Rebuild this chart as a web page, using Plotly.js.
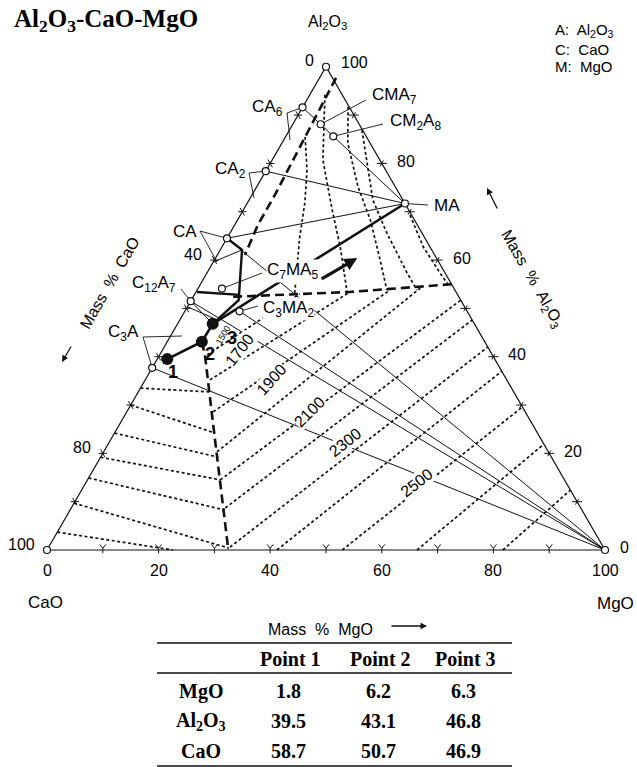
<!DOCTYPE html>
<html>
<head>
<meta charset="utf-8">
<script src="https://cdn.plot.ly/plotly-3.0.1.min.js"></script>
<style>html,body{margin:0;padding:0;background:#fff;}#chart{width:637px;height:767px;}</style>
</head>
<body>
<div id="chart"></div>
<script>
// ================= DATA (mass %) =================
const compoundIds    = ['CA6','CA2','CA','C12A7','C3A','MA','CMA7','CM2A8','C7MA5','C3MA2'];
const compoundLabels = ['CA<sub>6</sub>','CA<sub>2</sub>','CA','C<sub>12</sub>A<sub>7</sub>','C<sub>3</sub>A','MA','CMA<sub>7</sub>','CM<sub>2</sub>A<sub>8</sub>','C<sub>7</sub>MA<sub>5</sub>','C<sub>3</sub>MA<sub>2</sub>'];
const compoundCaO    = [8.4, 21.6, 35.5, 48.5, 62.3, 0.0, 6.9, 5.9, 41.6, 40.8];
const compoundAl2O3  = [91.6, 78.4, 64.5, 51.5, 37.7, 71.7, 88.1, 85.6, 54.1, 49.4];
const compoundMgO    = [0.0, 0.0, 0.0, 0.0, 0.0, 28.3, 5.0, 8.5, 4.3, 9.8];

const pointNames = ['Point 1','Point 2','Point 3'];
const pointMgO   = [1.8, 6.2, 6.3];
const pointAl2O3 = [39.5, 43.1, 46.8];
const pointCaO   = [58.7, 50.7, 46.9];

// tie lines between compounds (MgO = periclase corner)
const tieLines = [['CA6','MA'],['CA2','MA'],['CA','MA'],['CA','MgO'],['C3MA2','MgO'],['C12A7','MgO'],['C3A','MgO']];

// isotherms, vertices as [MgO, Al2O3]
const periclaseIsotherms = [
  [[8.5,40.4],[18.8,53.0]],
  [[11.6,35.2],[27.6,53.4]],
  [[15.5,28.6],[34.6,53.8]],
  [[20.3,20.3],[39.8,54.2]],
  [[23.8,14.5],[48.3,51.7]],
  [[27.6,8.7],[52.4,47.6]],
  [[32.5,0.6],[58.0,42.0]],
  [[41.2,0],[63.0,37.0]],
  [[52.9,0],[70.4,29.6]],
  [[66.3,0],[78.1,21.9]],
  [[81.7,0],[87.6,12.4]]
];
const limeIsotherms = [
  [[0,33.5],[12.9,32.7]],
  [[0,30.0],[18.0,24.2]],
  [[0,24.2],[21.1,19.2]],
  [[0,19.2],[23.9,14.5]],
  [[0,14.9],[27.6,8.3]],
  [[0,9.7],[32.4,0.4]],
  [[0,3.7],[22.6,0]]
];
const spinelIsotherms = [
  [[3.5,85.5],[7.3,78.6],[10.3,71.8],[12.9,64.8],[15.5,58.6],[17.8,53.2]],
  [[2.7,94.2],[9.1,80.7],[15.9,70.4],[21.2,62.7],[27.2,53.2]],
  [[8.1,91.7],[11.8,84.2],[18.2,75.1],[23.8,68.3],[29.7,60.0],[34.0,53.8]],
  [[13.0,86.9],[22.2,72.4],[28.1,65.6],[35.9,57.3],[39.4,53.8]],
  [[30.4,69.3],[36.1,62.7],[41.8,57.3],[45.0,54.4]]
];
// primary-field boundaries
const boundaryAluminate = [[2.95,97.7],[3.5,85.5],[4.1,73.5],[4.15,67.3],[4.95,61.05]];
const boundarySpinelPericlase = [[7.15,52.4],[27.6,53.4],[45.0,55.0]];
const boundaryLimePericlase = [[6.2,43.1],[8.1,40.4],[17.5,24.8],[32.5,0]];
const clusterThick = [
  [[0,64.5],[3.9,62.1],[8.5,51.7],[6.3,46.8]],
  [[0.2,53.4],[8.2,52.8]]
];
const clusterThin = [
  [[0,59.6],[3.9,62.1]],
  [[0,51.5],[6.3,46.8]],
  [[0.1,50.3],[5.75,48.0]]
];
const arrowTail = [21.0,55.9], arrowHead = [25.4,60.4];

const isoLabels = ['1500','1700','1900','2100','2300','2500'];
const isoLabelPos = [[9.3,44.5],[13.9,41.4],[22.7,35.2],[32.85,28.56],[42.2,22.35],[59.4,13.87]];

const minorTicks = [10,20,30,40,50,60,70,80,90];
const bottomTickLabels = [0,20,40,60,80,100];  // MgO
const leftTickLabels = [100,80,40,0];          // CaO
const rightTickLabels = [0,20,40,60,80,100];   // Al2O3
const tableRows = ['MgO','Al<sub>2</sub>O<sub>3</sub>','CaO'];

// ================= GEOMETRY =================
const W=637,H=767,OX=47,OY=550,K=5.58,S=Math.sqrt(3)/2;
const tx=(m,a)=>m+a/2, ty=(m,a)=>a*S;
const pxX=px=>(px-OX)/K, pxY=py=>(OY-py)/K;
const paX=px=>px/W, paY=py=>1-py/H;
function comp(id){ if(id==='MgO') return [100,0]; const i=compoundIds.indexOf(id); return [compoundMgO[i],compoundAl2O3[i]]; }
function polyTrace(polys,line){
  const x=[],y=[];
  polys.forEach(p=>{p.forEach(([m,a])=>{x.push(tx(m,a));y.push(ty(m,a));});x.push(null);y.push(null);});
  return {type:'scatter',mode:'lines',x,y,line,hoverinfo:'skip'};
}
function segTrace(segs,line){
  const x=[],y=[];
  segs.forEach(s=>{s.forEach(([a,b])=>{x.push(a);y.push(b);});x.push(null);y.push(null);});
  return {type:'scatter',mode:'lines',x,y,line,hoverinfo:'skip'};
}
const sans='Liberation Sans, Arial, Helvetica, sans-serif';
const serif='Liberation Serif, Times New Roman, serif';
const BLK='#111';

const traces=[];
const dotStyle={color:BLK,width:1.7,dash:'3px,2.5px'};
traces.push(polyTrace(periclaseIsotherms,dotStyle));
traces.push(polyTrace(limeIsotherms,dotStyle));
traces.push(polyTrace(spinelIsotherms,dotStyle));
traces.push(polyTrace(tieLines.map(([a,b])=>[comp(a),comp(b)]),{color:BLK,width:1}));
traces.push(polyTrace([[[0,0],[100,0],[0,100],[0,0]]],{color:BLK,width:1.2}));
const tk=[];
minorTicks.forEach(v=>{
  const bx=tx(v,0);
  tk.push([[bx-0.55,1.0],[bx,0.3],[bx+0.55,1.0]]);
  tk.push([[bx,0.3],[bx,-0.6]]);
  const lx=tx(0,v),ly=ty(0,v);
  tk.push([[lx-0.75,ly],[lx+0.75,ly]]);
  tk.push([[lx+0.4,ly-0.69],[lx-0.4,ly+0.69]]);
  const rx=tx(100-v,v),ry=ty(100-v,v);
  tk.push([[rx-0.9,ry],[rx+0.9,ry]]);
  tk.push([[rx-0.3,ry-0.52],[rx+0.3,ry+0.52]]);
});
traces.push(segTrace(tk,{color:BLK,width:1}));
traces.push(polyTrace([boundaryAluminate,boundarySpinelPericlase,boundaryLimePericlase],{color:BLK,width:2.6,dash:'9px,5px'}));
traces.push(polyTrace(clusterThick,{color:BLK,width:2.4}));
traces.push(polyTrace(clusterThin,{color:BLK,width:1}));
const pathPts=pointMgO.map((m,i)=>[m,pointAl2O3[i]]).concat([comp('MA')]);
traces.push(polyTrace([pathPts],{color:BLK,width:2.6}));
const leaders=[['CA6',[287,113],[290,140]],['CA2',[249,173],[254,198]],['CMA7',[366,100]],['CM2A8',[383,124]],
  ['MA',[428,205]],['CA',[200,231],[217,262]],['C7MA5',[262,273]],['C12A7',[181,289]],['C3MA2',[258,306]],['C3A',[143,337],[182,336]]];
const ld=leaders.map(l=>{const c=comp(l[0]);const s=[[tx(c[0],c[1]),ty(c[0],c[1])]];l.slice(1).forEach(p=>s.push([pxX(p[0]),pxY(p[1])]));return s;});
traces.push(segTrace(ld,{color:BLK,width:0.9}));
traces.push({type:'scatter',mode:'markers',x:compoundIds.map((id,i)=>tx(compoundMgO[i],compoundAl2O3[i])),
  y:compoundIds.map((id,i)=>ty(compoundMgO[i],compoundAl2O3[i])),marker:{size:7,color:'#fff',line:{color:BLK,width:1.2}},hoverinfo:'skip'});
traces.push({type:'scatter',mode:'markers',x:[tx(0,0),tx(100,0),tx(0,100)],y:[0,0,ty(0,100)],marker:{size:7,color:'#fff',line:{color:BLK,width:1.2}},hoverinfo:'skip'});
traces.push({type:'scatter',mode:'markers',x:pointMgO.map((m,i)=>tx(m,pointAl2O3[i])),y:pointAl2O3.map(a=>ty(0,a)),
  marker:{size:12,color:BLK},text:pointNames,hoverinfo:'text'});

// ================= ANNOTATIONS =================
const ann=[];
const f=(size,extra)=>Object.assign({family:sans,size:size,color:'#000'},extra||{});
function dataText(text,x,y,o){ann.push(Object.assign({text,x,y,xref:'x',yref:'y',xanchor:'center',yanchor:'middle',showarrow:false,font:f(16)},o||{}));}
function pixText(text,px,py,o){ann.push(Object.assign({text,x:paX(px),y:paY(py),xref:'paper',yref:'paper',xanchor:'center',yanchor:'middle',showarrow:false,font:f(16)},o||{}));}

const labelPix={CA6:[267,108],CA2:[230,170],CA:[185,231],C12A7:[154,284],C3A:[123,333],MA:[447,205],CMA7:[394,96],CM2A8:[415,122],C7MA5:[292,271],C3MA2:[288,309]};
compoundIds.forEach((id,i)=>{const p=labelPix[id];dataText(compoundLabels[i],pxX(p[0]),pxY(p[1]),{font:f(17),bgcolor:'#fff',borderpad:0});});
const isoAngles=[-60,-52,-48,-45,-38,-38];
isoLabels.forEach((t,i)=>{const [m,a]=isoLabelPos[i];
  dataText(t,tx(m,a),ty(m,a),{textangle:isoAngles[i],font:f(i===0?9:16),bgcolor:i===0?'rgba(0,0,0,0)':'#fff',borderpad:0});});
const pointNumPix=[[173,372],[210,354],[232,338]];
pointNumPix.forEach((p,i)=>dataText('<b>'+(i+1)+'</b>',pxX(p[0]),pxY(p[1]),{font:f(18)}));
bottomTickLabels.forEach(v=>dataText(String(v),tx(v,0),0,{yshift:-20}));
leftTickLabels.forEach(v=>{const a=100-v;dataText(String(v),tx(0,a),ty(0,a),{xanchor:'right',xshift:-10,yshift:6});});
rightTickLabels.forEach(v=>dataText(String(v),tx(100-v,v),ty(100-v,v),{xanchor:'left',xshift:13,yshift:v===0?3:(v===100?4:2)}));
ann.push({x:tx(arrowHead[0],arrowHead[1]),y:ty(arrowHead[0],arrowHead[1]),ax:tx(arrowTail[0],arrowTail[1]),ay:ty(arrowTail[0],arrowTail[1]),
  xref:'x',yref:'y',axref:'x',ayref:'y',text:'',showarrow:true,arrowhead:2,arrowsize:0.8,arrowwidth:3.2,arrowcolor:BLK});
pixText('Al<sub>2</sub>O<sub>3</sub>',327,22);
pixText('CaO',45,602,{font:f(17)});
pixText('MgO',615,603,{font:f(17)});
pixText('Mass\u00a0\u00a0%\u00a0\u00a0CaO',109,283,{textangle:-60,font:f(16)});
pixText('Mass\u00a0\u00a0%\u00a0\u00a0Al<sub>2</sub>O<sub>3</sub>',532,278,{textangle:60,font:f(16)});
ann.push({x:paX(62),y:paY(362),xref:'paper',yref:'paper',ax:10,ay:-17,text:'',showarrow:true,arrowhead:2,arrowsize:1,arrowwidth:1.3,arrowcolor:BLK});
ann.push({x:paX(487),y:paY(188),xref:'paper',yref:'paper',ax:11,ay:22,text:'',showarrow:true,arrowhead:2,arrowsize:1,arrowwidth:1.3,arrowcolor:BLK});
pixText('<b>Al<sub>2</sub>O<sub>3</sub>-CaO-MgO</b>',12,21,{xanchor:'left',font:{family:serif,size:25,color:'#000'}});
pixText('A:\u00a0 Al<sub>2</sub>O<sub>3</sub>',553,31,{xanchor:'left',font:f(15)});
pixText('C:\u00a0 CaO',553,49,{xanchor:'left',font:f(15)});
pixText('M:\u00a0 MgO',553,67,{xanchor:'left',font:f(15)});
pixText('Mass\u00a0\u00a0%\u00a0\u00a0MgO',320,629,{font:f(16)});
ann.push({x:paX(427),y:paY(626),xref:'paper',yref:'paper',ax:-37,ay:0,text:'',showarrow:true,arrowhead:2,arrowsize:1,arrowwidth:1.3,arrowcolor:BLK});
const tf={family:serif,size:20,color:'#000'};
const colX=[290,380,465];
pointNames.forEach((n,i)=>pixText('<b>'+n+'</b>',colX[i],659,{font:tf}));
const rowY=[691,721,751];
const rowVals=[pointMgO,pointAl2O3,pointCaO];
tableRows.forEach((r,j)=>{
  pixText('<b>'+r+'</b>',201,rowY[j],{font:tf});
  rowVals[j].forEach((v,i)=>pixText('<b>'+v.toFixed(1)+'</b>',colX[i]-2,rowY[j],{font:tf}));
});
const shapes=[643,673,766].map(py=>({type:'line',xref:'paper',yref:'paper',x0:paX(157),x1:paX(512),y0:paY(py),y1:paY(py),line:{color:BLK,width:1.6}}));

const layout={width:W,height:H,margin:{l:0,r:0,t:0,b:0},paper_bgcolor:'#fff',plot_bgcolor:'#fff',showlegend:false,
  xaxis:{range:[pxX(0),pxX(W)],visible:false,fixedrange:true},
  yaxis:{range:[pxY(H),pxY(0)],visible:false,fixedrange:true},
  annotations:ann,shapes:shapes};
Plotly.newPlot('chart',traces,layout,{staticPlot:true,displayModeBar:false});
</script>
</body>
</html>
